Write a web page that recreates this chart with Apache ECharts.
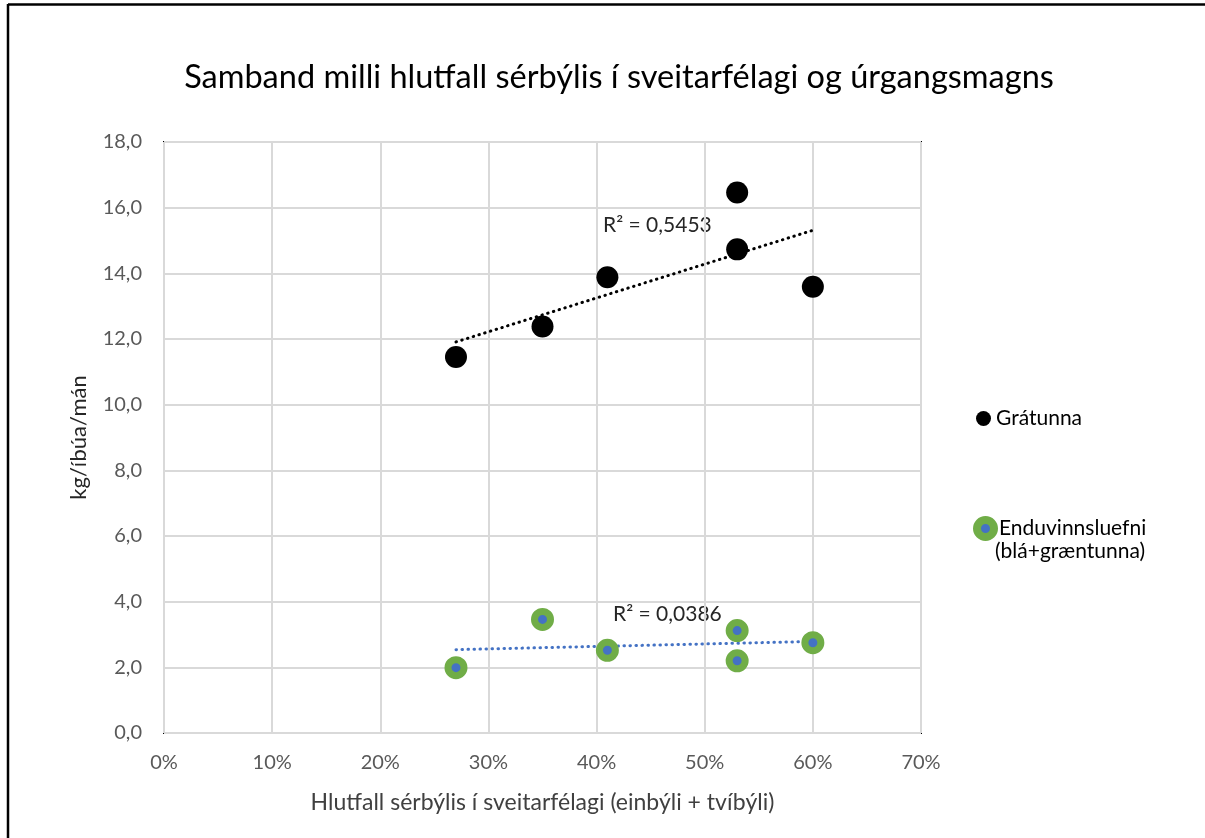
<!DOCTYPE html>
<html>
<head>
<meta charset="utf-8">
<script src="https://cdn.jsdelivr.net/npm/echarts@6/dist/echarts.min.js"></script>
<style>
html,body{margin:0;padding:0;background:#fff;}
#chart{width:1205px;height:838px;}
</style>
</head>
<body>
<div id="chart"></div>
<script>
// ---- data ----
const titleText = 'Samband milli hlutfall sérbýlis í sveitarfélagi og úrgangsmagns';
const xAxisName = 'Hlutfall sérbýlis í sveitarfélagi (einbýli + tvíbýli)';
const yAxisName = 'kg/íbúa/mán';
const seriesNames = ['Grátunna', 'Enduvinnsluefni (blá+græntunna)'];
const shareX = [27, 35, 41, 53, 53, 60];          // % sérbýli
const grayValues = [11.45, 12.38, 13.88, 16.46, 14.73, 13.59];
const recycleValues = [1.99, 3.46, 2.52, 3.12, 2.20, 2.75];
const r2Labels = ['R² = 0,5453', 'R² = 0,0386'];

const FONT = 'Lato, "Open Sans", sans-serif';

function pairs(xs, ys) { return xs.map((x, i) => [x, ys[i]]); }
function trend(xs, ys) {
  const n = xs.length;
  const mx = xs.reduce((a, b) => a + b, 0) / n;
  const my = ys.reduce((a, b) => a + b, 0) / n;
  let sxy = 0, sxx = 0;
  for (let i = 0; i < n; i++) { sxy += (xs[i] - mx) * (ys[i] - my); sxx += (xs[i] - mx) ** 2; }
  const b = sxy / sxx, a = my - b * mx;
  const x0 = Math.min(...xs), x1 = Math.max(...xs);
  return [[x0, a + b * x0], [x1, a + b * x1]];
}

const chart = echarts.init(document.getElementById('chart'), null, {renderer: 'canvas'});
const option = {
  backgroundColor: '#fff',
  animation: false,
  title: {
    text: titleText, left: 614, top: 56, textAlign: 'center',
    textStyle: {fontFamily: FONT, fontSize: 32.5, fontWeight: 'normal', color: '#000'}
  },
  grid: {left: 164, right: 284, top: 142, bottom: 105, show: true, borderColor: '#000', borderWidth: 2, backgroundColor: 'transparent'},
  legend: [{
    data: [{name: seriesNames[0], itemStyle: {color: '#000', opacity: 1}}],
    orient: 'vertical', left: 971, top: 403,
    itemWidth: 15, itemHeight: 15, itemGap: 6, icon: 'circle',
    textStyle: {fontFamily: FONT, fontSize: 21, color: '#000'}
  }, {
    data: [{name: seriesNames[1], itemStyle: {color: '#4472C4', borderColor: '#70AD47', borderWidth: 8, opacity: 1}}],
    orient: 'vertical', left: 968, top: 511,
    itemWidth: 17, itemHeight: 17, itemGap: 6, icon: 'circle',
    formatter: function (n) { return n.split(' ')[0]; },
    textStyle: {fontFamily: FONT, fontSize: 21, color: '#000'}
  }],
  xAxis: {
    type: 'value', min: 0, max: 70, interval: 10,
    name: xAxisName, nameLocation: 'middle', nameGap: 58,
    nameTextStyle: {fontFamily: FONT, fontSize: 23, color: '#404040'},
    axisLine: {show: false}, axisTick: {show: false},
    axisLabel: {formatter: v => v + '%', margin: 20, fontFamily: FONT, fontSize: 20, color: '#595959'},
    splitLine: {show: true, lineStyle: {color: '#d9d9d9', width: 2}}
  },
  yAxis: {
    type: 'value', min: 0, max: 18, interval: 2,
    name: yAxisName, nameLocation: 'middle', nameGap: 74,
    nameTextStyle: {fontFamily: FONT, fontSize: 22, color: '#262626'},
    axisLine: {show: false}, axisTick: {show: false},
    axisLabel: {formatter: v => v.toFixed(1).replace('.', ','), margin: 22, fontFamily: FONT, fontSize: 20, color: '#595959'},
    splitLine: {show: true, lineStyle: {color: '#d9d9d9', width: 2}}
  },
  series: [
    {
      name: seriesNames[0], type: 'scatter', symbol: 'circle', symbolSize: 22, z: 3,
      itemStyle: {color: '#000', opacity: 1}, data: pairs(shareX, grayValues)
    },
    {
      name: seriesNames[1], type: 'scatter', symbol: 'circle', symbolSize: 16, z: 3,
      itemStyle: {color: '#4472C4', borderColor: '#70AD47', borderWidth: 7, opacity: 1}, data: pairs(shareX, recycleValues)
    },
    {
      name: 'trend1', type: 'line', showSymbol: false, symbol: 'none', z: 2, silent: true,
      lineStyle: {color: '#000', width: 3, type: [0.5, 5.5], cap: 'round'}, data: trend(shareX, grayValues)
    },
    {
      name: 'trend2', type: 'line', showSymbol: false, symbol: 'none', z: 2, silent: true,
      lineStyle: {color: '#4472C4', width: 3, type: [0.5, 5.5], cap: 'round'}, data: trend(shareX, recycleValues)
    }
  ],
  graphic: [
    {type: 'line', shape: {x1: 8, y1: 4.5, x2: 1205, y2: 4.5}, style: {stroke: '#000', lineWidth: 2.5}},
    {type: 'line', shape: {x1: 8, y1: 4, x2: 8, y2: 838}, style: {stroke: '#000', lineWidth: 2.5}},
    {type: 'text', left: 603, top: 215, style: {text: r2Labels[0], fontFamily: FONT, fontSize: 21, fill: '#262626'}},
    {type: 'text', left: 613, top: 604, style: {text: r2Labels[1], fontFamily: FONT, fontSize: 21, fill: '#262626'}},
    {type: 'text', left: 995, top: 541, style: {text: '(blá+græntunna)', fontFamily: FONT, fontSize: 21, fill: '#000'}}
  ]
};
chart.setOption(option);
</script>
</body>
</html>
